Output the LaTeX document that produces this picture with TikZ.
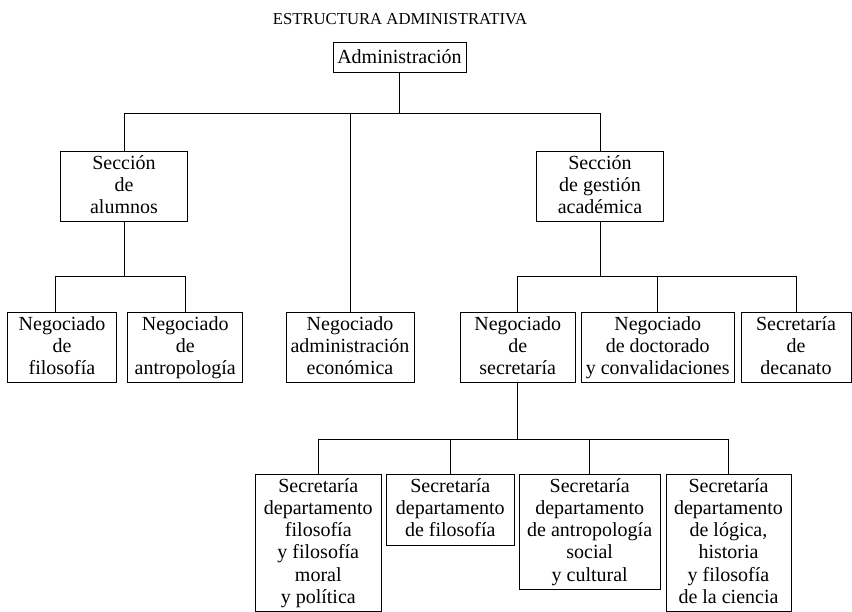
\documentclass[tikz,border=0pt]{standalone}
\usepackage{fontspec}
\setmainfont{Liberation Serif}
\newcommand\unitfont{\fontsize{20}{22.1}\selectfont}
\tikzset{
    unit/.style={draw, line width=0.9pt, align=center, font=\unitfont, inner xsep=2pt, inner ysep=4pt, anchor=north,
        execute at begin node={\vrule height 17.8pt depth 0pt width 0pt},
        execute at end node={\vrule height 0pt depth 4.5pt width 0pt}},
    link/.style={line width=0.9pt}
}
\begin{document}
\begin{tikzpicture}[x=1pt,y=-1pt]
            \clip (0,0) rectangle (852,611);
            \node[font=\fontsize{16.7}{20}\selectfont, anchor=base] (title) at (400,24.3) {ESTRUCTURA ADMINISTRATIVA};
            \node[unit, minimum width=133pt] (adm) at (399.5,41.7) {Administración};
            \node[unit, minimum width=126.6pt] (alum) at (124,150.7) {Sección\\de\\alumnos};
            \node[unit, minimum width=126.6pt] (gest) at (600,150.7) {Sección\\de gestión\\académica};
            \node[unit, minimum width=109.4pt] (nfil) at (62,311.7) {Negociado\\de\\filosofía};
            \node[unit, minimum width=115pt] (nant) at (185.2,311.7) {Negociado\\de\\antropología};
            \node[unit, minimum width=128pt] (neco) at (350,311.7) {Negociado\\administración\\económica};
            \node[unit, minimum width=115.3pt] (nsec) at (517.7,311.7) {Negociado\\de\\secretaría};
            \node[unit, minimum width=153.3pt] (ndoc) at (657.7,311.7) {Negociado\\de doctorado\\y convalidaciones};
            \node[unit, minimum width=110pt] (ndec) at (796,311.7) {Secretaría\\de\\decanato};
            \node[unit, minimum width=125.3pt] (sfm) at (318.3,474.3) {Secretaría\\departamento\\filosofía\\y filosofía\\moral\\y política};
            \node[unit, minimum width=127.3pt] (sf) at (450.3,474.3) {Secretaría\\departamento\\de filosofía};
            \node[unit, minimum width=140.7pt] (sant) at (589.7,474.3) {Secretaría\\departamento\\de antropología\\social\\y cultural};
            \node[unit, minimum width=125pt] (slog) at (728.5,474.3) {Secretaría\\departamento\\de lógica,\\historia\\y filosofía\\de la ciencia};
            \coordinate (j1) at (399.5,113.3);
            \draw[link] (adm.south) -- (j1);
            \draw[link] (alum.north) |- (j1) -| (gest.north);
            \draw[link] (neco.north) -- (neco.north |- j1);
            \coordinate (j2) at (124,276.7);
            \draw[link] (alum.south) -- (j2);
            \draw[link] ([xshift=-6.3pt]nfil.north) |- (j2) -| (nant.north);
            \coordinate (j3) at (600,276.7);
            \draw[link] (gest.south) -- (j3);
            \draw[link] (nsec.north) |- (j3) -| (ndec.north);
            \draw[link] (ndoc.north) -- (ndoc.north |- j3);
            \coordinate (j4) at (517.7,439.3);
            \draw[link] (nsec.south) -- (j4);
            \draw[link] (sfm.north) |- (j4) -| (slog.north);
            \draw[link] (sf.north) -- (sf.north |- j4);
            \draw[link] (sant.north) -- (sant.north |- j4);
        \end{tikzpicture}
\end{document}
